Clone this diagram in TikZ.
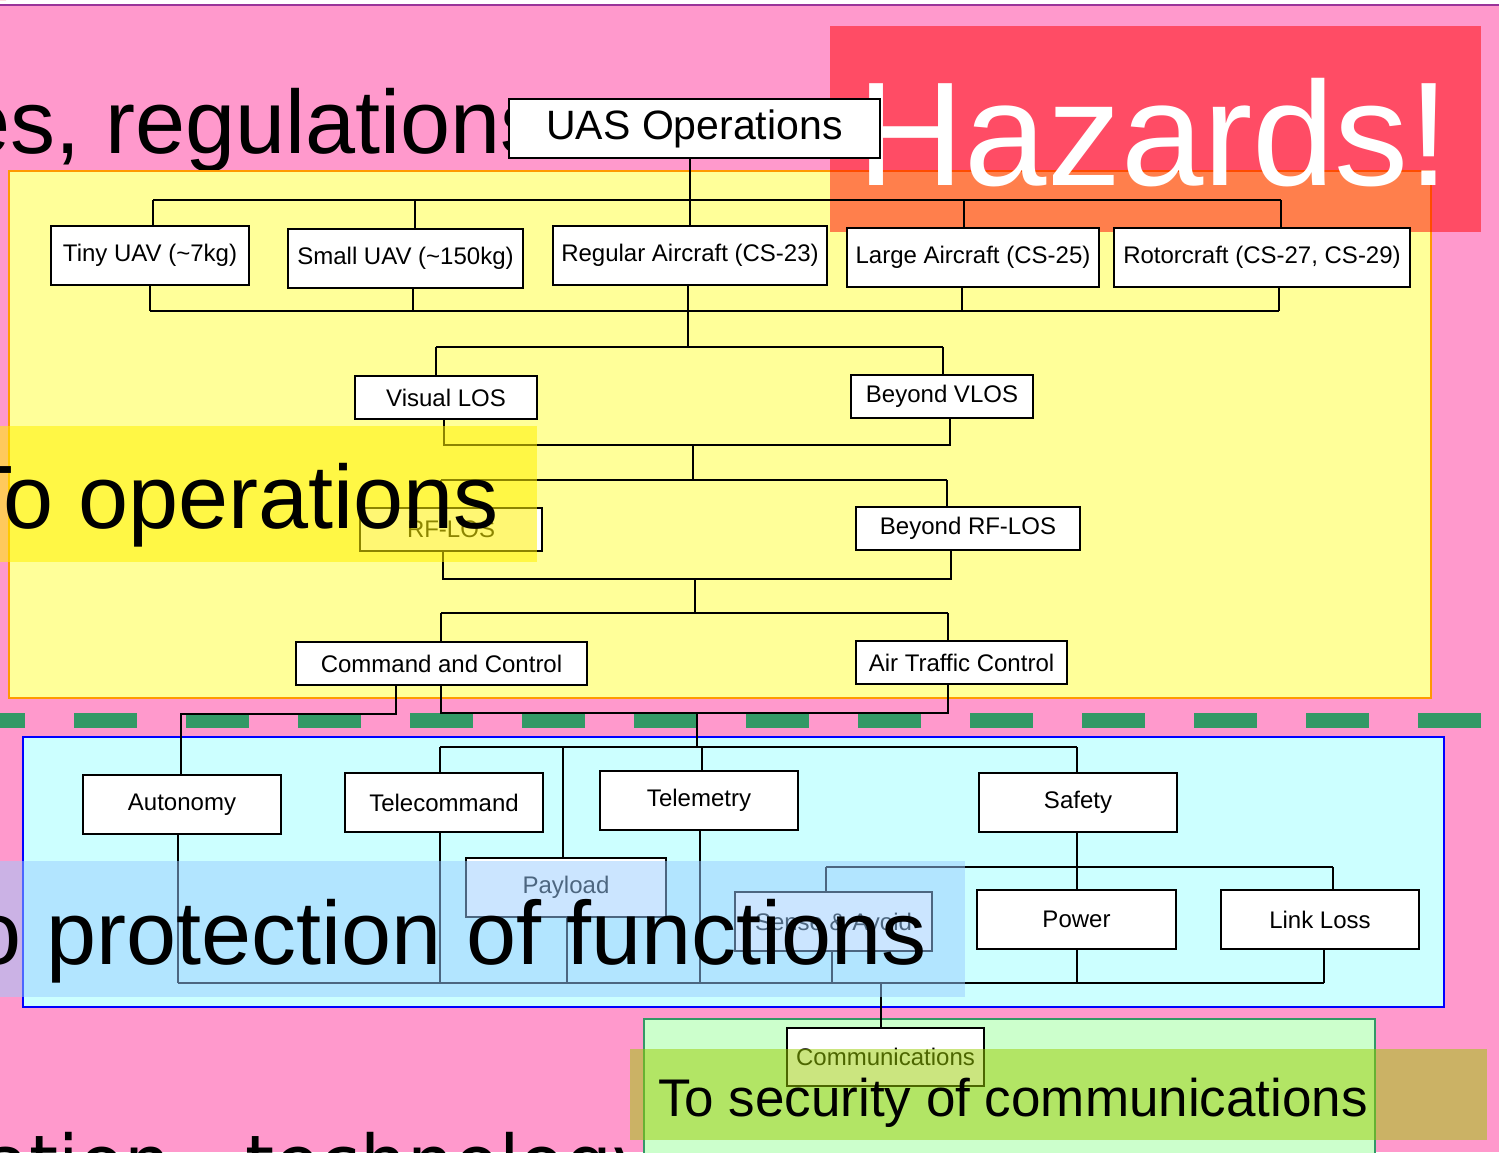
\documentclass[tikz,border=0pt]{standalone}
\usepackage{fontspec}
\setmainfont{Liberation Sans}
\newfontfamily\dvsans{DejaVu Sans}
\definecolor{slidepink}{RGB}{255,153,204}
\definecolor{paleyellow}{RGB}{255,255,153}
\definecolor{boxorange}{RGB}{255,153,0}
\definecolor{palecyan}{RGB}{204,255,255}
\definecolor{palegreen}{RGB}{204,255,204}
\definecolor{seagreen}{RGB}{51,153,102}
\definecolor{lineviolet}{RGB}{153,51,153}
\definecolor{skyblue}{RGB}{153,204,255}
\definecolor{limegreen}{RGB}{153,204,0}
\begin{document}
\begin{tikzpicture}[x=1pt,y=-1pt,
  tbox/.style={draw=black, fill=white, line width=1.2pt, inner sep=0pt,
               font=\fontsize{24}{28}\selectfont},
  conn/.style={draw=black, line width=1.3pt},
  bigtext/.style={inner sep=0pt, font=\fontsize{90}{100}\selectfont},
  marker/.style={fill opacity=0.5, draw=none}]
\clip (0,0) rectangle (1499,1152);
\useasboundingbox (0,0) rectangle (1499,1152);

% slide background
\fill[slidepink] (0,0) rectangle (1499,1152);
\fill[white] (0,0) rectangle (1499,4);
\draw[lineviolet, line width=2pt] (0,5) -- (1499,5);
\fill[red!85!black] (0,0) -- (6,0) arc[start angle=0, end angle=-90, radius=6] -- cycle;

% background headline fragments
\node[bigtext, anchor=base east] (regs) at (546,153) {es, regulations};
\node[inner sep=0pt, anchor=base west, font=\dvsans\fontsize{74}{80}\selectfont] (tech) at (-16,1188) {ation - technology};

% coloured panels
\draw[boxorange, fill=paleyellow, line width=2pt] (9,171) rectangle (1431,698);
\draw[blue, fill=palecyan, line width=2pt] (23,737) rectangle (1444,1007);
\draw[seagreen, fill=palegreen, line width=2pt] (644,1019) rectangle (1375,1160);
\draw[seagreen, line width=15pt, dash pattern=on 63pt off 49pt] (-38,720) -- (1500,720);

% hazard panel
\fill[red, fill opacity=0.5] (830,26) rectangle (1481,232);
\node[inner sep=0pt, anchor=base, text=white, font=\fontsize{148}{160}\selectfont] (haz) at (1154,185) {Hazards!};

% tree boxes
\node[tbox, minimum width=371, minimum height=59, font=\fontsize{41}{46}\selectfont] (uas) at (694.5,128.5) {UAS Operations};
\node[tbox, minimum width=198, minimum height=59] (tiny) at (150,255.5) {Tiny UAV (\textasciitilde 7kg)};
\node[tbox, minimum width=235, minimum height=59] (small) at (405.5,258.5) {Small UAV (\textasciitilde 150kg)};
\node[tbox, minimum width=274, minimum height=59] (regular) at (690,255.5) {Regular Aircraft (CS-23)};
\node[tbox, minimum width=252, minimum height=59] (large) at (973,257.5) {Large Aircraft (CS-25)};
\node[tbox, minimum width=296, minimum height=59] (rotor) at (1262,257.5) {Rotorcraft (CS-27, CS-29)};
\node[tbox, minimum width=182, minimum height=43] (vlos) at (446,397.5) {Visual LOS};
\node[tbox, minimum width=182, minimum height=43] (bvlos) at (942,396.5) {Beyond VLOS};
\node[tbox, minimum width=182, minimum height=43] (rflos) at (451,529.5) {RF-LOS};
\node[tbox, minimum width=224, minimum height=43] (brflos) at (968,528.5) {Beyond RF-LOS};
\node[tbox, minimum width=291, minimum height=43] (cc) at (441.5,663.5) {Command and Control};
\node[tbox, minimum width=211, minimum height=43] (atc) at (961.5,662.5) {Air Traffic Control};
\node[tbox, minimum width=198, minimum height=59] (auto) at (182,804.5) {Autonomy};
\node[tbox, minimum width=198, minimum height=59] (tcmd) at (444,802.5) {Telecommand};
\node[tbox, minimum width=198, minimum height=59] (tlm) at (699,800.5) {Telemetry};
\node[tbox, minimum width=198, minimum height=59] (safety) at (1078,802.5) {Safety};
\node[tbox, minimum width=200, minimum height=59] (payload) at (566,887.5) {Payload};
\node[tbox, minimum width=197, minimum height=59] (sa) at (833.5,921.5) {Sense \& Avoid};
\node[tbox, minimum width=199, minimum height=59] (power) at (1076.5,919.5) {Power};
\node[tbox, minimum width=198, minimum height=59] (link) at (1320,919.5) {Link Loss};
\node[tbox, minimum width=197, minimum height=58] (comm) at (885.5,1057) {Communications};

% bus junctions
\coordinate (a1) at (153,200);  \coordinate (a2) at (415,200);  \coordinate (a3) at (690,200);
\coordinate (a4) at (964,200);  \coordinate (a5) at (1281,200);
\coordinate (b1) at (150,311);  \coordinate (b2) at (413,311);  \coordinate (b3) at (688,311);
\coordinate (b4) at (962,311);  \coordinate (b5) at (1279,311);
\coordinate (c3) at (688,347);  \coordinate (c1) at (436,347);  \coordinate (c2) at (943,347);
\coordinate (e1) at (444,445);  \coordinate (e2) at (950,445);  \coordinate (e3) at (693,445);
\coordinate (f3) at (693,480);  \coordinate (f1) at (441,480);  \coordinate (f2) at (947,480);
\coordinate (g1) at (443,579);  \coordinate (g2) at (951,579);  \coordinate (g3) at (695,579);
\coordinate (h3) at (695,613);  \coordinate (h1) at (441,613);  \coordinate (h2) at (948,613);
\coordinate (k1) at (396,714);  \coordinate (k2) at (181,714);
\coordinate (m1) at (441,713);  \coordinate (m2) at (948,713);  \coordinate (m3) at (697,713);
\coordinate (n0) at (697,747);
\coordinate (n1) at (440,747);  \coordinate (n2) at (563,747);  \coordinate (n3) at (702,747);
\coordinate (n4) at (1077,747);
\coordinate (p1) at (826,867);  \coordinate (p2) at (1077,867); \coordinate (p3) at (1333,867);
\coordinate (q1) at (178,983);  \coordinate (q2) at (440,983);  \coordinate (q3) at (567,983);
\coordinate (q4) at (700,983);  \coordinate (q5) at (832,983);  \coordinate (q6) at (1077,983);
\coordinate (q7) at (1324,983); \coordinate (qc) at (881,983);

% connectors: aircraft classes
\draw[conn] (a3 |- uas.south) -- (a3);
\draw[conn] (a1) -- (a5);
\foreach \j/\b in {a1/tiny,a2/small,a3/regular,a4/large,a5/rotor}
  \draw[conn] (\j) -- (\j |- \b.north);
\foreach \j/\b in {b1/tiny,b2/small,b3/regular,b4/large,b5/rotor}
  \draw[conn] (\j |- \b.south) -- (\j);
\draw[conn] (b1) -- (b5);
\draw[conn] (b3) -- (c3);
% visual line of sight
\draw[conn] (c1) -- (c2);
\draw[conn] (c1) -- (c1 |- vlos.north);
\draw[conn] (c2) -- (c2 |- bvlos.north);
\draw[conn] (e1 |- vlos.south) -- (e1) -- (e2) -- (e2 |- bvlos.south);
\draw[conn] (e3) -- (f3);
% radio line of sight
\draw[conn] (f1) -- (f2);
\draw[conn] (f1) -- (f1 |- rflos.north);
\draw[conn] (f2) -- (f2 |- brflos.north);
\draw[conn] (g1 |- rflos.south) -- (g1) -- (g2) -- (g2 |- brflos.south);
\draw[conn] (g3) -- (h3);
% control
\draw[conn] (h1) -- (h2);
\draw[conn] (h1) -- (h1 |- cc.north);
\draw[conn] (h2) -- (h2 |- atc.north);
\draw[conn] (k1 |- cc.south) -- (k1) -- (k2) -- (k2 |- auto.north);
\draw[conn] (m1 |- cc.south) -- (m1) -- (m2) -- (m2 |- atc.south);
\draw[conn] (m3) -- (n0);
% functions
\draw[conn] (n1) -- (n4);
\foreach \j/\b in {n1/tcmd,n2/payload,n3/tlm,n4/safety}
  \draw[conn] (\j) -- (\j |- \b.north);
\draw[conn] (p2 |- safety.south) -- (p2) -- (p2 |- power.north);
\draw[conn] (p1) -- (p3);
\draw[conn] (p1) -- (p1 |- sa.north);
\draw[conn] (p3) -- (p3 |- link.north);
\foreach \j/\b in {q1/auto,q2/tcmd,q3/payload,q4/tlm,q5/sa,q6/power,q7/link}
  \draw[conn] (\j |- \b.south) -- (\j);
\draw[conn] (q1) -- (q7);
\draw[conn] (qc) -- (qc |- comm.north);

% highlighter bands
\fill[yellow, fill opacity=0.55] (0,426) rectangle (537,562);
\fill[skyblue, marker] (0,861) rectangle (965,997);
\fill[limegreen, marker] (630,1049) rectangle (1487,1140);

% headline texts on top
\node[bigtext, anchor=base east] (ops) at (499,528) {To operations};
\node[bigtext, anchor=base east] (prot) at (927,964) {o protection of functions};
\node[inner sep=0pt, anchor=base, font=\fontsize{53}{60}\selectfont] (sec) at (1013,1116) {To security of communications};
\end{tikzpicture}
\end{document}
